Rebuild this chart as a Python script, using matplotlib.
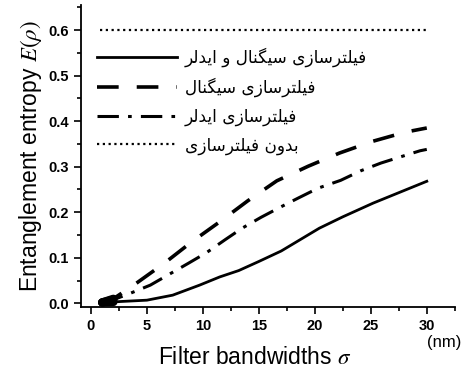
import numpy as np
import matplotlib
matplotlib.use("Agg")
import matplotlib.pyplot as plt
from matplotlib.ticker import MultipleLocator

# data
sig_solid = [1, 2, 2.6, 5, 7.3, 9.7, 11.5, 13.2, 15, 17, 20.4, 22.5, 25.2, 27.5, 30]
ent_solid = [0.002, 0.003, 0.004, 0.007, 0.018, 0.040, 0.058, 0.072, 0.092, 0.115,
             0.165, 0.19, 0.22, 0.243, 0.268]

sig_dash = [1, 2, 4.1, 6.6, 9.0, 11.5, 14.0, 16.6, 19.4, 22.2, 25.2, 28.1, 30]
ent_dash = [0.002, 0.01, 0.045, 0.089, 0.135, 0.179, 0.225, 0.269, 0.301, 0.33,
            0.356, 0.376, 0.385]

sig_dashdot = [1, 2, 3.5, 5.3, 7.0, 8.7, 10.3, 12.0, 13.5, 15.2, 16.9, 18.5, 20.3,
               22.3, 24.1, 25.9, 27.7, 29.4, 30]
ent_dashdot = [0.002, 0.008, 0.022, 0.040, 0.064, 0.088, 0.111, 0.14, 0.165, 0.189,
               0.211, 0.231, 0.253, 0.27, 0.291, 0.308, 0.322, 0.335, 0.338]

sig_none = [0.8, 30]
ent_none = [0.6, 0.6]

labels = ["فیلترسازی سیگنال و ایدلر",
          "فیلترسازی سیگنال",
          "فیلترسازی ایدلر",
          "بدون فیلترسازی"]

# simple arabic/persian shaping (matplotlib has no shaping / bidi)
DUAL = {'ف': (0xFED1, 0xFED2, 0xFED3, 0xFED4), 'ی': (0xFBFC, 0xFBFD, 0xFBFE, 0xFBFF),
        'ل': (0xFEDD, 0xFEDE, 0xFEDF, 0xFEE0), 'ت': (0xFE95, 0xFE96, 0xFE97, 0xFE98),
        'س': (0xFEB1, 0xFEB2, 0xFEB3, 0xFEB4), 'گ': (0xFB92, 0xFB93, 0xFB94, 0xFB95),
        'ن': (0xFEE5, 0xFEE6, 0xFEE7, 0xFEE8), 'ب': (0xFE8F, 0xFE90, 0xFE91, 0xFE92)}
RIGHT = {'ا': (0xFE8D, 0xFE8E), 'ر': (0xFEAD, 0xFEAE), 'ز': (0xFEAF, 0xFEB0),
         'و': (0xFEED, 0xFEEE), 'د': (0xFEA9, 0xFEAA)}


def shape(s):
    out = []
    for i, c in enumerate(s):
        prev = s[i - 1] if i > 0 else ''
        nxt = s[i + 1] if i + 1 < len(s) else ''
        jp = prev in DUAL
        if c in DUAL:
            jn = nxt in DUAL or nxt in RIGHT
            k = 3 if (jp and jn) else 1 if jp else 2 if jn else 0
            out.append(chr(DUAL[c][k]))
        elif c in RIGHT:
            out.append(chr(RIGHT[c][1 if jp else 0]))
        else:
            out.append(c)
    return ''.join(reversed(out))


plt.rcParams['mathtext.fontset'] = 'stix'

fig = plt.figure(figsize=(4.65, 3.71), dpi=100)
ax = fig.add_axes([0.174, 0.1725, 0.804, 0.814])

l1, = ax.plot(sig_solid, ent_solid, color='black', lw=2.0, ls='-')
l2, = ax.plot(sig_dash, ent_dash, color='black', lw=2.6, ls=(0, (6, 5)))
l3, = ax.plot(sig_dashdot, ent_dashdot, color='black', lw=2.2, ls=(0, (7, 3, 1.2, 3)))
l4, = ax.plot(sig_none, ent_none, color='black', lw=1.6, ls=(0, (1, 1.6)))

# thick start blob
for xs, ys in [(sig_solid, ent_solid), (sig_dash, ent_dash), (sig_dashdot, ent_dashdot)]:
    ax.plot(xs[:2], ys[:2], color='black', lw=6, solid_capstyle='round')

ax.set_xlim(-0.9, 32.5)
ax.set_ylim(-0.008, 0.655)
ax.spines['top'].set_visible(False)
ax.spines['right'].set_visible(False)
for s in ['left', 'bottom']:
    ax.spines[s].set_linewidth(1.3)
ax.xaxis.set_major_locator(MultipleLocator(5))
ax.xaxis.set_minor_locator(MultipleLocator(2.5))
ax.yaxis.set_major_locator(MultipleLocator(0.1))
ax.yaxis.set_minor_locator(MultipleLocator(0.05))
ax.tick_params(which='major', direction='out', length=5, width=1.2)
ax.tick_params(which='minor', direction='out', length=3, width=1.2)
ax.set_xticks([0, 5, 10, 15, 20, 25, 30])
ax.set_yticks([0.0, 0.1, 0.2, 0.3, 0.4, 0.5, 0.6])
ax.set_yticklabels(['0.0', '0.1', '0.2', '0.3', '0.4', '0.5', '0.6'])
for t in ax.get_xticklabels() + ax.get_yticklabels():
    t.set_fontfamily('Liberation Sans')
    t.set_fontweight('bold')
    t.set_fontsize(10.5)

ax.set_ylabel(r'Entanglement entropy $E(\rho)$', fontsize=16.5, family='Liberation Sans',
              labelpad=3)
ax.set_xlabel(r'Filter bandwidths $\sigma$', fontsize=16.5, family='Liberation Sans')
ax.xaxis.set_label_coords(0.465, -0.13, transform=ax.transAxes)
ax.xaxis.label.set_va('top')
fig.text(0.993, 0.065, '(nm)', fontsize=12, family='Liberation Sans', ha='right',
         va='baseline')

ax.legend([l1, l2, l3, l4], [shape(s) for s in labels], loc='upper left',
          bbox_to_anchor=(0.2086, 0.872), bbox_transform=fig.transFigure,
          frameon=False, borderpad=0, borderaxespad=0, handlelength=4.7,
          handletextpad=0.5, labelspacing=0.62,
          prop={'family': 'DejaVu Sans', 'size': 12.2})

fig.savefig('out.png', dpi=100)
